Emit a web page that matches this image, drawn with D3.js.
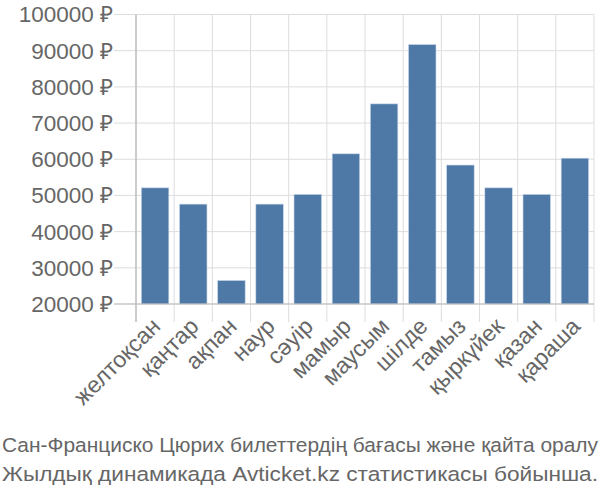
<!DOCTYPE html>
<html><head><meta charset="utf-8">
<script src="https://cdn.jsdelivr.net/npm/d3@7"></script>
<style>body{margin:0;background:#fff;}svg{display:block;font-family:"Liberation Sans",Arial,sans-serif;}</style>
</head><body><svg id="c" width="600" height="500"></svg>
<script>
const months = ["желтоқсан","қаңтар","ақпан","наур","сәуір","мамыр","маусым","шілде","тамыз","қыркүйек","қазан","қараша"];
const prices = [52100, 47600, 26500, 47600, 50300, 61500, 75300, 91700, 58400, 52100, 50300, 60300];
const yTicks = [20000, 30000, 40000, 50000, 60000, 70000, 80000, 90000, 100000];
const titleLines = ["Сан-Франциско Цюрих билеттердің бағасы және қайта оралу", "Жылдық динамикада Avticket.kz статистикасы бойынша."];

const svg = d3.select("#c");
const L = 136, R = 594, T = 14.5, B = 304;
const x = d3.scaleBand().domain(months).range([L, R]).paddingInner(0.28).paddingOuter(0.14);
const xg = d3.scaleBand().domain(months).range([L, R]);
const y = d3.scaleLinear().domain([20000, 100000]).range([B, T]);

// horizontal grid
svg.append("g").selectAll("line").data(yTicks).join("line")
  .attr("x1", L - 22).attr("x2", R).attr("y1", d => y(d)).attr("y2", d => y(d))
  .attr("stroke", "#ddd").attr("stroke-width", 1);
// vertical grid
const vx = months.map(m => xg(m)).concat([R]);
svg.append("g").selectAll("line").data(vx).join("line")
  .attr("x1", d => d).attr("x2", d => d).attr("y1", T).attr("y2", B + 18)
  .attr("stroke", "#ddd").attr("stroke-width", 1);

// bars
svg.append("g").selectAll("rect").data(prices).join("rect")
  .attr("x", (d, i) => x(months[i])).attr("width", x.bandwidth())
  .attr("y", d => y(d)).attr("height", d => B - y(d))
  .attr("fill", "#4e79a7").attr("stroke", "#c9d7e8").attr("stroke-width", 0.6);

// axes lines
svg.append("line").attr("x1", L).attr("x2", L).attr("y1", T).attr("y2", B + 18).attr("stroke", "#aaa").attr("stroke-width", 1);
svg.append("line").attr("x1", L - 22).attr("x2", R).attr("y1", B).attr("y2", B).attr("stroke", "#bbb").attr("stroke-width", 1);

// y labels
svg.append("g").selectAll("text").data(yTicks).join("text")
  .attr("x", L - 23).attr("y", d => y(d)).attr("dy", "0.35em")
  .attr("text-anchor", "end").attr("fill", "#666").attr("font-size", 22.5)
  .text(d => d + " ₽");

// x labels
svg.append("g").selectAll("text").data(months).join("text")
  .attr("transform", m => `translate(${xg(m) + xg.bandwidth() / 2 + 1},${B + 18}) rotate(-45)`)
  .attr("text-anchor", "end").attr("fill", "#666").attr("font-size", 23)
  .attr("dy", "0.35em")
  .text(m => m);

// title
svg.append("g").selectAll("text").data(titleLines).join("text")
  .attr("x", 2).attr("y", (d, i) => 452 + i * 29)
  .attr("text-anchor", "start").attr("fill", "#666").attr("font-size", 20.5)
  .attr("textLength", 596).attr("lengthAdjust", "spacingAndGlyphs")
  .text(d => d);
</script></body></html>
